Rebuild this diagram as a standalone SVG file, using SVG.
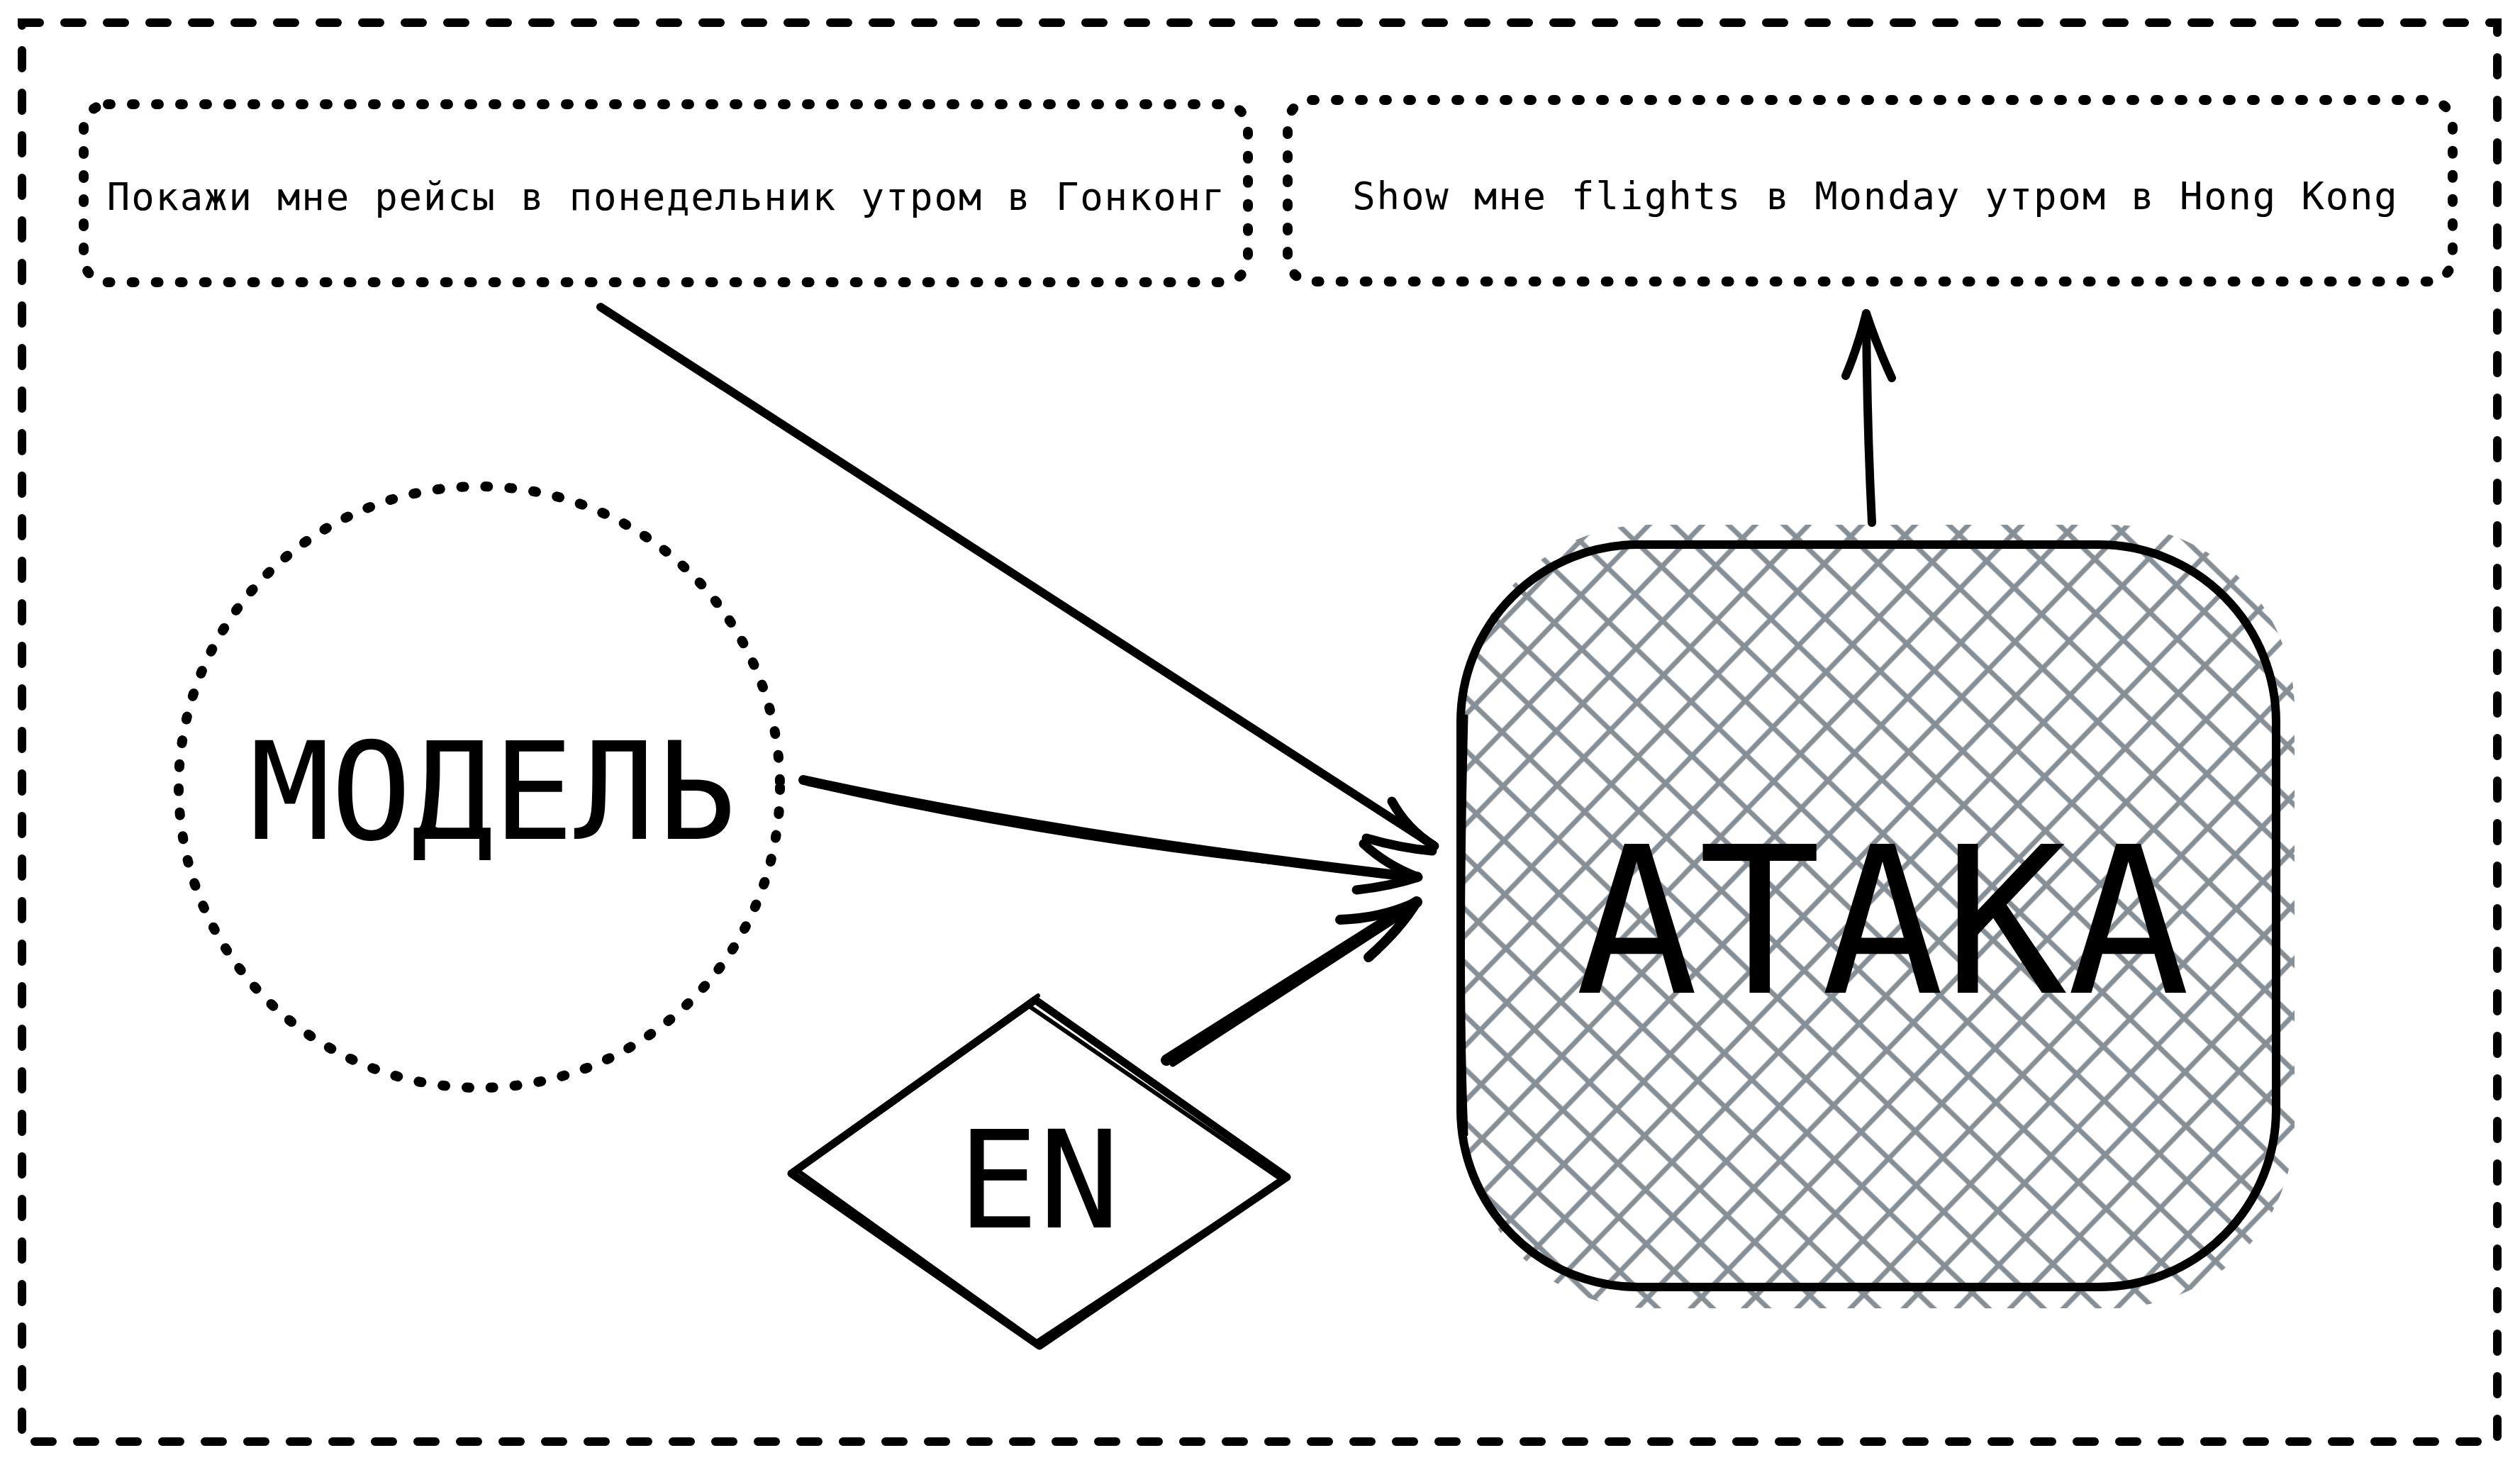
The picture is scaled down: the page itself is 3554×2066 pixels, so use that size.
<svg xmlns="http://www.w3.org/2000/svg" width="3554" height="2066" viewBox="0 0 3554 2066">
<style>
.frame{fill:none;stroke:#000;stroke-width:12;stroke-linecap:round;stroke-dasharray:25 35}
.dots{fill:none;stroke:#000;stroke-width:14;stroke-linecap:round;stroke-dasharray:4 30}
.sk{fill:none;stroke:#000;stroke-linecap:round;stroke-linejoin:round}
.small{font-family:"DejaVu Sans Mono","Liberation Mono",monospace;font-size:54px;letter-spacing:1.8px;fill:#000;text-anchor:middle}
.big{font-family:"DejaVu Sans Mono","Liberation Mono",monospace;fill:#000;text-anchor:middle}
</style>
<defs>
<pattern id="hatch" patternUnits="userSpaceOnUse" width="54" height="54" patternTransform="rotate(44)">
<line x1="27" y1="-2" x2="27" y2="56" stroke="#868e96" stroke-width="7"/>
<line x1="-2" y1="27" x2="56" y2="27" stroke="#868e96" stroke-width="7"/>
</pattern>
<clipPath id="hclip"><rect x="2066" y="740" width="1170" height="1105" rx="260"/></clipPath>
</defs>
<rect width="3554" height="2066" fill="#fff"/>
<g id="frame"><path class="frame" d="M31,32 L3522,32 L3522,2033 L31,2033 Z"/></g>
<g id="src-text">
<rect class="dots" x="118" y="147" width="1642" height="251" rx="34"/>
<text class="small" x="940" y="296">Покажи мне рейсы в понедельник утром в Гонконг</text>
</g>
<g id="out-text">
<rect class="dots" x="1816" y="141" width="1643" height="256" rx="34"/>
<text class="small" x="2645" y="295">Show мне flights в Monday утром в Hong Kong</text>
</g>
<g id="model">
<circle class="dots" cx="676" cy="1110" r="424"/>
<text class="big" x="695" y="1183" font-size="190">МОДЕЛЬ</text>
</g>
<g id="en">
<path class="sk" stroke-width="11" d="M1460,1410 L1815,1660 L1466,1898 L1116,1655 Z"/>
<path class="sk" stroke-width="6" d="M1453,1420 L1808,1664 L1462,1892 L1124,1650 L1464,1404"/>
<text class="big" x="1465" y="1731" font-size="190">EN</text>
</g>
<g id="attack">
<rect x="2062" y="738" width="1175" height="1108" fill="url(#hatch)" clip-path="url(#hclip)"/>
<rect class="sk" stroke-width="12" x="2060" y="768" width="1150" height="1047" rx="250"/>
<path class="sk" stroke-width="5" d="M2068,1010 C2062,1250 2062,1450 2068,1600"/>
<text class="big" x="2655" y="1400" font-size="288">АТАКА</text>
</g>
<g id="connectors">
<path class="sk" stroke-width="12" d="M847,433 L2023,1193"/>
<path class="sk" stroke-width="13" d="M1963,1130 Q1985,1170 2023,1193 M1927,1182 Q1975,1196 2020,1200"/>
<path class="sk" stroke-width="14" d="M1133,1100 Q1500,1180 1995,1237"/>
<path class="sk" stroke-width="9" d="M1140,1104 Q1560,1200 2000,1234"/>
<path class="sk" stroke-width="13" d="M1923,1190 Q1955,1220 2000,1237 M1913,1255 Q1960,1250 2000,1237"/>
<path class="sk" stroke-width="16" d="M1645,1495 L1998,1272"/>
<path class="sk" stroke-width="9" d="M1654,1500 L1990,1282"/>
<path class="sk" stroke-width="14" d="M1890,1297 Q1950,1295 1998,1272 M1930,1350 Q1975,1310 1998,1272"/>
<path class="sk" stroke-width="12" d="M2640,737 Q2633,600 2632,442"/>
<path class="sk" stroke-width="12" d="M2603,530 Q2620,490 2632,442 Q2648,490 2668,533"/>
</g>
</svg>
